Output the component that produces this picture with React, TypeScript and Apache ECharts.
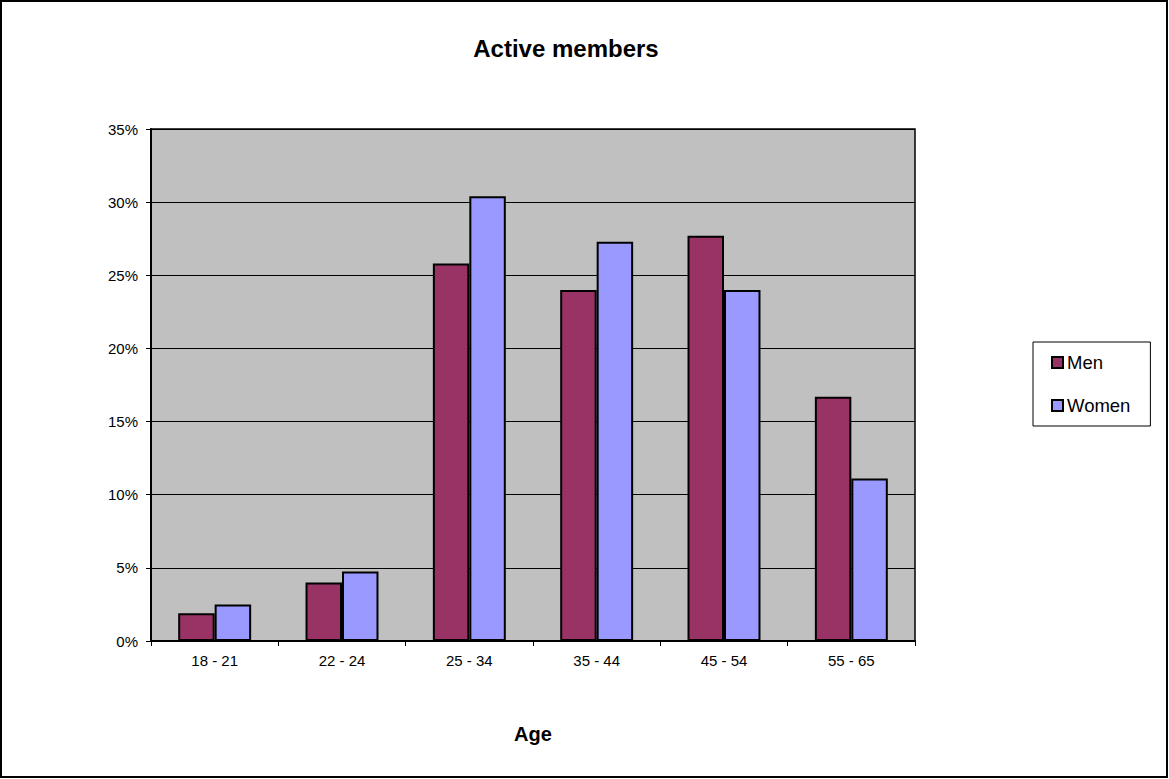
import React, { useEffect, useRef } from "react";
import * as echarts from "echarts";

const categories = ["18 - 21", "22 - 24", "25 - 34", "35 - 44", "45 - 54", "55 - 65"];
const menValues = [1.9, 4.0, 25.8, 24.0, 27.7, 16.7];
const womenValues = [2.5, 4.75, 30.4, 27.3, 24.0, 11.1];
const seriesNames = ["Men", "Women"];
const chartTitle = "Active members";
const xAxisTitle = "Age";

const FONT = "'Liberation Sans', Arial, Helvetica, sans-serif";

export default function App() {
  const ref = useRef<HTMLDivElement>(null);
  useEffect(() => {
    if (!ref.current) return;
    const chart = echarts.init(ref.current, undefined, { renderer: "svg" });
    chart.setOption({
      animation: false,
      backgroundColor: "#ffffff",
      textStyle: { fontFamily: FONT },
      title: {
        text: chartTitle,
        left: 561,
        top: 31,
        textAlign: "center",
        textStyle: { fontFamily: FONT, fontSize: 24, fontWeight: "bold", color: "#000" },
      },
      graphic: [
        {
          type: "rect",
          shape: { x: 1, y: 1, width: 1166, height: 776 },
          style: { fill: "none", stroke: "#000", lineWidth: 2 },
          silent: true,
          z: 100,
        },
      ],
      legend: {
        orient: "vertical",
        left: 1033,
        top: 342,
        padding: [11, 20, 11, 18],
        itemGap: 24,
        itemWidth: 11,
        itemHeight: 11,
        backgroundColor: "#fff",
        borderColor: "#000",
        borderWidth: 1,
        icon: "rect",
        textStyle: { fontFamily: FONT, fontSize: 18.5, color: "#000", padding: [0, 0, 0, -1] },
        itemStyle: { borderColor: "#000", borderWidth: 2 },
        data: seriesNames,
      },
      grid: {
        left: 151,
        top: 129,
        width: 764,
        height: 512,
        show: true,
        backgroundColor: "#C0C0C0",
        borderColor: "#000",
        borderWidth: 1.5,
      },
      xAxis: {
        type: "category",
        data: categories,
        name: xAxisTitle,
        nameLocation: "middle",
        nameGap: 83,
        nameTextStyle: { fontFamily: FONT, fontSize: 20, fontWeight: "bold", color: "#000" },
        axisLine: { lineStyle: { color: "#000", width: 2 } },
        axisTick: { show: true, length: 5, lineStyle: { color: "#000", width: 1 } },
        axisLabel: { fontFamily: FONT, fontSize: 15, color: "#000", margin: 12 },
      },
      yAxis: {
        type: "value",
        min: 0,
        max: 35,
        interval: 5,
        axisLine: { show: true, lineStyle: { color: "#000", width: 2 } },
        axisTick: { show: true, length: 5, lineStyle: { color: "#000", width: 1 } },
        axisLabel: {
          fontFamily: FONT,
          fontSize: 15,
          color: "#000",
          margin: 13,
          formatter: (v: number) => v + "%",
        },
        splitLine: { show: true, lineStyle: { color: "#000", width: 1 } },
      },
      series: [
        {
          name: seriesNames[0],
          type: "bar",
          data: menValues,
          barGap: "0%",
          barCategoryGap: "42.7%",
          itemStyle: { color: "#993366", borderColor: "#000", borderWidth: 2 },
        },
        {
          name: seriesNames[1],
          type: "bar",
          data: womenValues,
          barGap: "0%",
          barCategoryGap: "42.7%",
          itemStyle: { color: "#9999FF", borderColor: "#000", borderWidth: 2 },
        },
      ],
    });
    return () => chart.dispose();
  }, []);
  return (
    <div
      ref={ref}
      style={{ position: "fixed", left: 0, top: 0, width: 1169, height: 779 }}
    />
  );
}
